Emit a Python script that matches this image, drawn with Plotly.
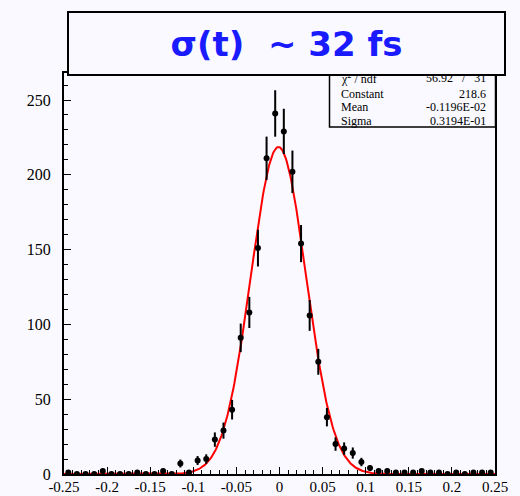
import numpy as np
import plotly.graph_objects as go

# ---- data ----
bin_centers = [round(-0.245 + 0.01 * i, 3) for i in range(50)]
counts = [1, 0, 0, 0, 2, 0, 0, 0, 1, 0,
          0, 2, 0, 7, 1, 9, 10, 23, 29, 43,
          91, 108, 151, 211, 241, 229, 202, 154, 106, 75,
          38, 20, 17, 14, 8, 4, 2, 2, 1, 1,
          1, 2, 1, 1, 0, 1, 0, 1, 1, 1]
errors = [float(np.sqrt(c)) for c in counts]

fit_constant = 218.6
fit_mean = -0.1196e-02
fit_sigma = 0.3194e-01

stat_labels = ["χ<sup>2</sup> / ndf", "Constant", "Mean", "Sigma"]
stat_values = ["56.92   /   31", "218.6", "-0.1196E-02", "0.3194E-01"]

title_text = "σ(t)  ~ 32 fs"

x_ticks = [-0.25, -0.2, -0.15, -0.1, -0.05, 0, 0.05, 0.1, 0.15, 0.2, 0.25]
x_ticktext = ["-0.25", "-0.2", "-0.15", "-0.1", "-0.05", "0", "0.05", "0.1", "0.15", "0.2", "0.25"]
y_ticks = [0, 50, 100, 150, 200, 250]

# ---- figure ----
W, H = 520, 496
L, R, T, B = 64, 25, 73, 22
PW, PH = W - L - R, H - T - B

def px(x):
    return (x - L) / PW

def py(y):
    return (H - B - y) / PH

xf = np.linspace(-0.25, 0.25, 601)
yf = fit_constant * np.exp(-0.5 * ((xf - fit_mean) / fit_sigma) ** 2)

fig = go.Figure()
fig.add_trace(go.Scatter(
    x=xf, y=yf, mode="lines",
    line=dict(color="#ff0000", width=2),
    hoverinfo="skip", showlegend=False,
))
fig.add_trace(go.Scatter(
    x=bin_centers, y=counts, mode="markers",
    marker=dict(color="black", size=6, symbol="circle"),
    error_y=dict(type="data", array=errors, visible=True, color="black", thickness=2, width=0),
    showlegend=False,
))

bg = "#f9f9ff"
serif = "Liberation Serif, Times New Roman, serif"

fig.update_layout(
    width=W, height=H,
    margin=dict(l=L, r=R, t=T, b=B, pad=0),
    paper_bgcolor=bg, plot_bgcolor=bg,
    font=dict(family=serif, size=16, color="black"),
    showlegend=False,
)
fig.update_xaxes(
    range=[-0.25, 0.25], tickvals=x_ticks, ticktext=x_ticktext,
    ticks="inside", ticklen=7, tickwidth=1, tickcolor="black",
    minor=dict(dtick=0.01, tick0=-0.25, ticks="inside", ticklen=4, tickcolor="black", tickwidth=1),
    showgrid=False, zeroline=False,
    showline=True, linecolor="black", linewidth=2, mirror=True,
    tickfont=dict(family=serif, size=15, color="black"),
    automargin=False, ticklabelstandoff=-2,
)
fig.update_yaxes(
    range=[0, PH / 1.496], tickvals=y_ticks,
    ticks="inside", ticklen=7, tickwidth=1, tickcolor="black",
    minor=dict(dtick=10, tick0=0, ticks="inside", ticklen=4, tickcolor="black", tickwidth=1),
    showgrid=False, zeroline=False,
    showline=True, linecolor="black", linewidth=2, mirror=True,
    tickfont=dict(family=serif, size=16, color="black"),
    automargin=False, ticklabelstandoff=8,
)

# stat box
fig.add_shape(type="rect", xref="paper", yref="paper",
              x0=px(329.5), x1=px(495.5), y0=py(127), y1=py(72),
              line=dict(color="black", width=1.5), fillcolor=bg, layer="above")
row_y = [78.5, 94, 107, 120.5]
for lab, val, yy in zip(stat_labels, stat_values, row_y):
    fig.add_annotation(xref="paper", yref="paper", x=px(339), y=py(yy),
                       text=lab, showarrow=False, xanchor="left", yanchor="middle",
                       font=dict(family=serif, size=12, color="black"))
    fig.add_annotation(xref="paper", yref="paper", x=px(488), y=py(yy),
                       text=val, showarrow=False, xanchor="right", yanchor="middle",
                       font=dict(family=serif, size=12, color="black"))

# title box (annotation drawn last so it sits on top)
fig.add_annotation(xref="paper", yref="paper",
                   x=px((66.7 + 505.7) / 2), y=py((10.7 + 75.7) / 2),
                   xanchor="center", yanchor="middle",
                   text="<b>" + title_text + "</b>", showarrow=False,
                   width=435, height=61, align="center", valign="middle",
                   bgcolor=bg, bordercolor="black", borderwidth=2, borderpad=0,
                   font=dict(family="DejaVu Sans, sans-serif", size=34, color="#1a1aff"))

fig.write_html(
    "out.html",
    config={"displayModeBar": False},
    post_script="document.body.style.margin='0';document.body.style.background='%s';" % bg,
)
